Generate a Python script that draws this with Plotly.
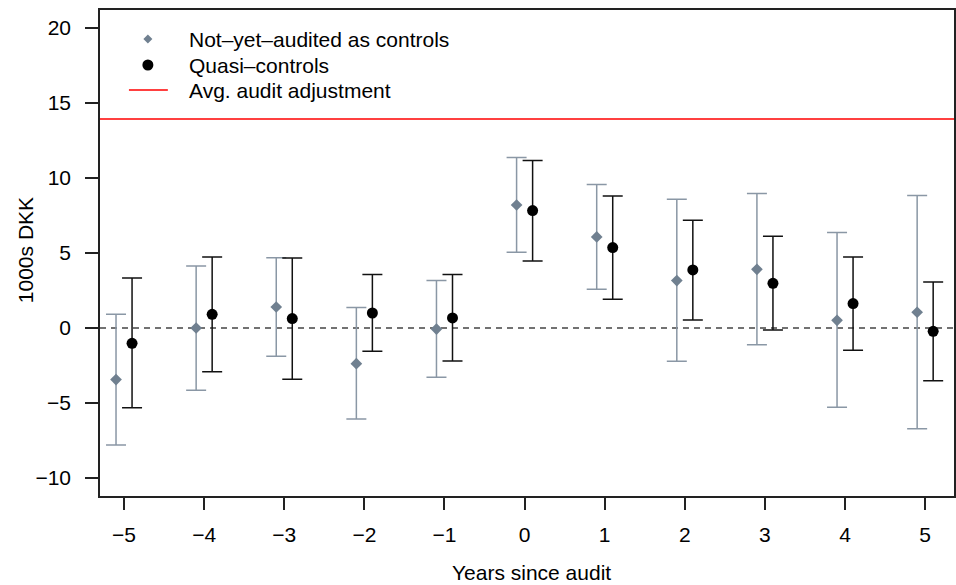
import plotly.graph_objects as go

years = [-5, -4, -3, -2, -1, 0, 1, 2, 3, 4, 5]

nya_est = [-3.44, 0.0, 1.40, -2.38, -0.07, 8.20, 6.07, 3.16, 3.91, 0.51, 1.05]
nya_hi = [0.91, 4.13, 4.69, 1.36, 3.16, 11.36, 9.56, 8.58, 8.96, 6.36, 8.83]
nya_lo = [-7.80, -4.15, -1.89, -6.07, -3.29, 5.05, 2.58, -2.22, -1.11, -5.29, -6.71]

qc_est = [-1.02, 0.91, 0.63, 1.00, 0.67, 7.83, 5.36, 3.87, 2.98, 1.63, -0.22]
qc_hi = [3.33, 4.73, 4.67, 3.56, 3.56, 11.16, 8.80, 7.18, 6.11, 4.73, 3.07]
qc_lo = [-5.31, -2.91, -3.42, -1.55, -2.20, 4.47, 1.91, 0.53, -0.13, -1.49, -3.51]

avg_adjustment = 13.93
offset = 0.1

legend_labels = ["Not\u2013yet\u2013audited as controls", "Quasi\u2013controls", "Avg. audit adjustment"]
x_title = "Years since audit"
y_title = "1000s DKK"

x_nya = [x - offset for x in years]
x_qc = [x + offset for x in years]

GREY_BAR = "#8a97a5"
GREY_PT = "#708090"
RED = "#ff0000"
FONT = "Liberation Sans, Arial, Helvetica, sans-serif"
FS = 21

fig = go.Figure()

fig.add_trace(go.Scatter(
    x=x_nya, y=nya_est, mode="markers", name=legend_labels[0], showlegend=False,
    marker=dict(symbol="diamond", size=9, color=GREY_PT),
    error_y=dict(type="data", symmetric=False,
                 array=[h - e for h, e in zip(nya_hi, nya_est)],
                 arrayminus=[e - l for e, l in zip(nya_est, nya_lo)],
                 color=GREY_BAR, thickness=1.5, width=10),
))
fig.add_trace(go.Scatter(
    x=x_qc, y=qc_est, mode="markers", name=legend_labels[1], showlegend=False,
    marker=dict(symbol="circle", size=11, color="black"),
    error_y=dict(type="data", symmetric=False,
                 array=[h - e for h, e in zip(qc_hi, qc_est)],
                 arrayminus=[e - l for e, l in zip(qc_est, qc_lo)],
                 color="#111111", thickness=1.5, width=10),
))

# horizontal reference lines
fig.add_hline(y=avg_adjustment, line=dict(color=RED, width=1.6))
fig.add_hline(y=0, line=dict(color="#444444", width=1.5, dash="6px,5px"), layer="below")

# helpers: pixel -> paper coords of the plot area (x 100..956 px, y 10..496 px)
def px_x(px):
    return (px - 100) / 856.0

def px_y(py):
    return (496 - py) / 486.0

# manual legend
rows_y = [39, 65, 90]
key_x = 148
text_x = 187

fig.add_shape(type="path", xref="paper", yref="paper", xsizemode="pixel", ysizemode="pixel",
              xanchor=px_x(key_x), yanchor=px_y(rows_y[0]),
              path="M 0 4.5 L 4.5 0 L 0 -4.5 L -4.5 0 Z",
              fillcolor=GREY_PT, line=dict(width=0))
fig.add_shape(type="circle", xref="paper", yref="paper", xsizemode="pixel", ysizemode="pixel",
              xanchor=px_x(key_x), yanchor=px_y(rows_y[1]),
              x0=-5.5, x1=5.5, y0=-5.5, y1=5.5,
              fillcolor="black", line=dict(width=0))
fig.add_shape(type="line", xref="paper", yref="paper",
              x0=px_x(129), x1=px_x(168), y0=px_y(rows_y[2]), y1=px_y(rows_y[2]),
              line=dict(color=RED, width=1.6))
for lab, ry in zip(legend_labels, rows_y):
    fig.add_annotation(text=lab, xref="paper", yref="paper", x=px_x(text_x), y=px_y(ry),
                       xanchor="left", yanchor="middle", showarrow=False,
                       font=dict(family=FONT, size=FS, color="black"))

# axis titles
fig.add_annotation(text=x_title, xref="paper", yref="paper", x=px_x(533), y=px_y(572),
                   xanchor="center", yanchor="middle", showarrow=False,
                   font=dict(family=FONT, size=FS, color="black"))
fig.add_annotation(text=y_title, xref="paper", yref="paper", x=px_x(25), y=px_y(250),
                   xanchor="center", yanchor="middle", showarrow=False, textangle=-90,
                   font=dict(family=FONT, size=FS, color="black"))

fig.update_layout(
    width=956, height=585,
    margin=dict(l=100, r=0, t=10, b=89),
    paper_bgcolor="white", plot_bgcolor="white",
    font=dict(family=FONT, size=FS, color="black"),
    showlegend=False,
    xaxis=dict(range=[-5.30, 5.36], tickmode="array", tickvals=years,
               ticktext=["\u2212" + str(-v) if v < 0 else str(v) for v in years],
               ticks="outside", ticklen=12, tickwidth=1.5, tickcolor="#222",
               showline=True, linecolor="#222", linewidth=1.5, mirror=True,
               showgrid=False, zeroline=False, ticklabelstandoff=7),
    yaxis=dict(range=[-11.2, 21.2], tickmode="array",
               tickvals=[-10, -5, 0, 5, 10, 15, 20],
               ticktext=["\u221210", "\u22125", "0", "5", "10", "15", "20"],
               ticks="outside", ticklen=13, tickwidth=1.5, tickcolor="#222",
               showline=True, linecolor="#222", linewidth=1.5, mirror=True,
               showgrid=False, zeroline=False, ticklabelstandoff=10),
)

fig.write_html("out.html")
